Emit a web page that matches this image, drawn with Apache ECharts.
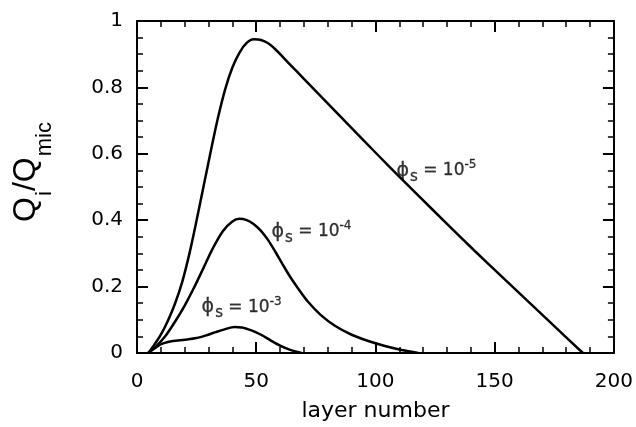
<!DOCTYPE html>
<html>
<head>
<meta charset="utf-8">
<script src="https://cdn.jsdelivr.net/npm/echarts@6/dist/echarts.min.js"></script>
<style>
  html, body { margin: 0; padding: 0; background: #fff; }
  #chart { width: 636px; height: 427px; }
</style>
</head>
<body>
<div id="chart"></div>
<script>
  // values
  var layer5 = [4.7, 7, 10, 13, 16, 19, 22, 25, 28, 31, 34, 37, 40, 43, 46, 49, 52, 55, 58, 61, 64, 67, 70, 82, 94, 106, 118, 130, 142, 154, 166, 176, 187]
  var q5 = [0, 0.022, 0.055, 0.098, 0.15, 0.215, 0.3, 0.4, 0.505, 0.61, 0.71, 0.795, 0.86, 0.905, 0.934, 0.945, 0.943, 0.933, 0.915, 0.893, 0.87, 0.848, 0.826, 0.737, 0.648, 0.56, 0.474, 0.389, 0.305, 0.223, 0.142, 0.074, 0]

  var layer4 = [4.7, 8, 12, 16, 20, 24, 28, 32, 36, 40, 43, 46, 49, 52, 55, 58, 61, 64, 68, 72, 77, 83, 90, 97, 104, 111, 118]
  var q4 = [0, 0.02, 0.052, 0.095, 0.143, 0.198, 0.258, 0.318, 0.367, 0.396, 0.404, 0.4, 0.388, 0.368, 0.34, 0.305, 0.268, 0.232, 0.19, 0.152, 0.115, 0.082, 0.055, 0.036, 0.021, 0.009, 0]

  var layer3 = [4.7, 7, 9, 11, 15, 20, 25, 29, 33, 37, 41, 44, 48, 52, 56, 60, 64, 69]
  var q3 = [0, 0.012, 0.022, 0.029, 0.036, 0.04, 0.045, 0.053, 0.063, 0.072, 0.078, 0.077, 0.068, 0.055, 0.038, 0.022, 0.01, 0]

  var exponents = ['-5', '-4', '-3']
  var labelAt = [[108.8, 0.549], [56.4, 0.365], [27.1, 0.137]]

  function pairs(xs, ys) {
    var out = []
    for (var i = 0; i < xs.length; i++) {
      out.push([xs[i], ys[i]])
    }
    return out
  }

  var font = 'DejaVu Sans'
  var chart = echarts.init(document.getElementById('chart'))

  var curve = function (data) {
    return {
      type: 'line',
      data: data,
      smooth: 0.3,
      showSymbol: false,
      lineStyle: { color: '#000', width: 2.5 },
      z: 3
    }
  }

  var labelRich = {
    phi: { fontFamily: font, fontSize: 19, color: '#000', textBorderColor: '#000', textBorderWidth: 0.3 },
    sub: { fontFamily: font, fontSize: 15, color: '#000', textBorderColor: '#000', textBorderWidth: 0.3, padding: [12, 0, 0, 1] },
    eq: { fontFamily: font, fontSize: 17, color: '#000', textBorderColor: '#000', textBorderWidth: 0.3 },
    sup: { fontFamily: font, fontSize: 12, color: '#000', textBorderColor: '#000', textBorderWidth: 0.3, padding: [0, 0, 12, 0] }
  }

  var labelData = []
  for (var k = 0; k < exponents.length; k++) {
    labelData.push({ value: labelAt[k], exp: exponents[k] })
  }

  var edgeAxis = {
    axisLine: { show: true, onZero: false, lineStyle: { color: '#000', width: 2 } },
    axisTick: { show: true, inside: true, length: 11, lineStyle: { color: '#000', width: 2 } },
    minorTick: { show: true, length: 6, lineStyle: { color: '#000', width: 1.5 } },
    splitLine: { show: false },
    axisLabel: { show: false }
  }

  var option = {
    animation: false,
    backgroundColor: '#fff',
    grid: { left: 137, right: 21, top: 21, bottom: 69 },
    xAxis: [
      Object.assign({}, edgeAxis, {
        type: 'value', min: 0, max: 200, interval: 50, position: 'bottom',
        minorTick: Object.assign({}, edgeAxis.minorTick, { splitNumber: 5 }),
        axisLabel: { show: true, margin: 19, fontFamily: font, fontSize: 20, color: '#000' },
        name: 'layer number', nameLocation: 'middle', nameGap: 47,
        nameTextStyle: { fontFamily: font, fontSize: 22, color: '#000' }
      }),
      Object.assign({}, edgeAxis, {
        type: 'value', min: 0, max: 200, interval: 50, position: 'top',
        minorTick: Object.assign({}, edgeAxis.minorTick, { splitNumber: 5 })
      })
    ],
    yAxis: [
      Object.assign({}, edgeAxis, {
        type: 'value', min: 0, max: 1, interval: 0.2, position: 'left',
        minorTick: Object.assign({}, edgeAxis.minorTick, { splitNumber: 4 }),
        axisLabel: { show: true, margin: 14, fontFamily: font, fontSize: 20, color: '#000',
          formatter: function (v) { return v === 0 || v === 1 ? String(v) : v.toFixed(1) } }
      }),
      Object.assign({}, edgeAxis, {
        type: 'value', min: 0, max: 1, interval: 0.2, position: 'right',
        minorTick: Object.assign({}, edgeAxis.minorTick, { splitNumber: 4 })
      })
    ],
    graphic: [{
      type: 'text',
      x: 26,
      y: 172,
      rotation: Math.PI / 2,
      style: {
        text: '{q|Q}{s|i}{q|/Q}{s|mic}',
        align: 'center',
        verticalAlign: 'middle',
        rich: {
          q: { fontFamily: 'Liberation Sans', fontSize: 32, fill: '#000' },
          s: { fontFamily: 'Liberation Sans', fontSize: 22, fill: '#000', padding: [38, 0, 0, 1] }
        }
      }
    }],
    series: [
      curve(pairs(layer5, q5)),
      curve(pairs(layer4, q4)),
      curve(pairs(layer3, q3)),
      {
        type: 'scatter',
        data: labelData,
        symbolSize: 0,
        z: 4,
        label: {
          show: true,
          position: 'right',
          distance: 0,
          color: '#000',
          formatter: function (p) {
            return '{phi|\u03d5}{sub|s}{eq| = 10}{sup|' + p.data.exp + '}'
          },
          rich: labelRich
        }
      }
    ]
  }

  chart.setOption(option)
</script>
</body>
</html>
